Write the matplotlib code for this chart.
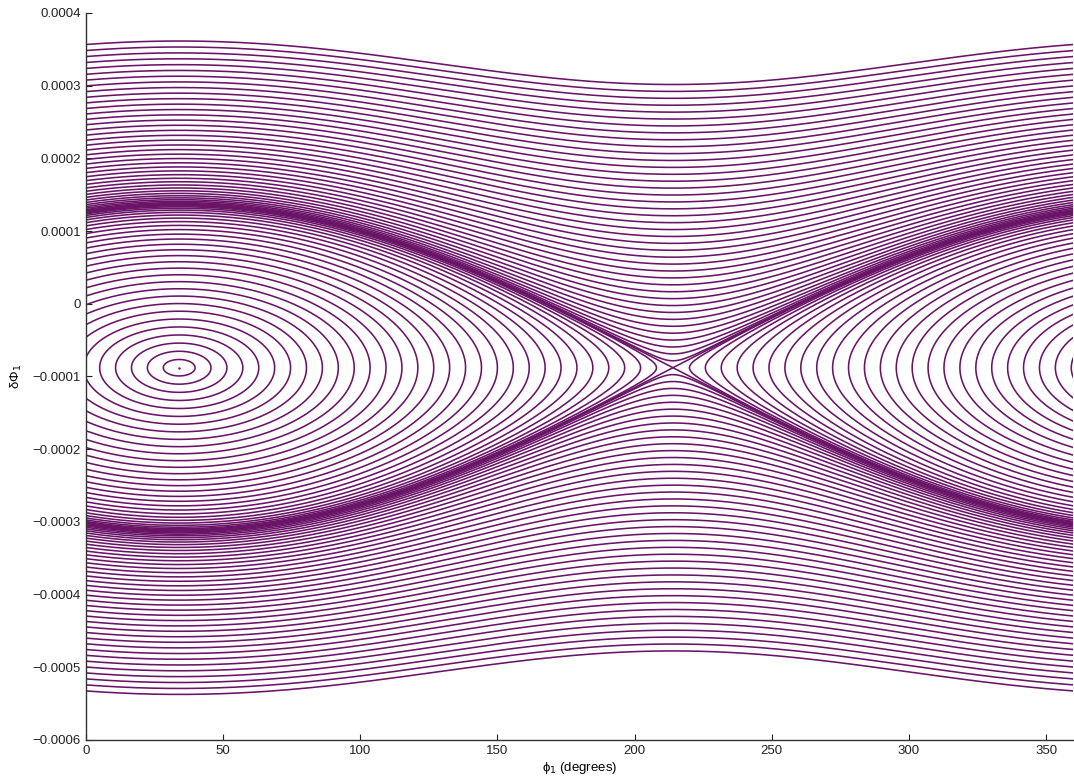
import numpy as np
import matplotlib
matplotlib.use('Agg')
import matplotlib.pyplot as plt

plt.rcParams['font.family'] = ['Liberation Sans', 'DejaVu Sans']

# centro dell'isola e separatrice
phi_c = 34.0          # gradi, centro delle librazioni
y_c = -0.000088       # quota del centro / della sella
w_sep = 0.000224      # semi-altezza della separatrice a phi = phi_c

# librazioni: angolo di inversione (gradi dal centro)
turn_deg = [5.8, 11.6, 17.4, 23.2, 29.0, 34.8, 40.6, 46.4, 52.2, 58.0,
            63.8, 69.6, 75.4, 81.2, 87.0, 92.8, 98.6, 104.4, 110.2, 116.0,
            121.8, 127.6, 133.4, 139.2, 145.0, 150.8, 156.6, 162.4, 168.2, 174.0]

# circolazioni: distanza dalla sella a phi = phi_c + 180 (unita' 1e-6)
circ_off = [0.0, 9.5, 19.0, 28.5, 38.0, 47.5, 57.0, 66.5, 76.0, 85.5, 95.0,
            104.5, 114.0, 123.5, 133.0, 142.5, 152.0, 161.5, 171.0, 180.5,
            190.0, 199.5, 209.0, 218.5, 228.0, 237.5, 247.0, 256.5, 266.0,
            275.5, 285.0, 294.5, 304.0, 313.5, 323.0, 332.5, 342.0, 351.5,
            361.0, 370.5, 380.0, 389.5]

xticks = [0, 50, 100, 150, 200, 250, 300, 350]
yticks = [-0.0006, -0.0005, -0.0004, -0.0003, -0.0002, -0.0001, 0,
          0.0001, 0.0002, 0.0003, 0.0004]
ytick_labels = ['\u22120.0006', '\u22120.0005', '\u22120.0004', '\u22120.0003',
                '\u22120.0002', '\u22120.0001', '0', '0.0001', '0.0002',
                '0.0003', '0.0004']

col = '#6a1468'
lw = 1.15

fig = plt.figure(figsize=(10.74, 7.81), dpi=100)
ax = fig.add_axes([0.080, 0.0525, 0.9195, 0.931])

# librazioni (curve chiuse), partenza dalla punta destra
u = np.linspace(np.pi / 2, np.pi / 2 + 2 * np.pi, 700)
for t in turn_deg:
    k = np.sin(np.radians(t) / 2)
    th = 2 * np.arcsin(k * np.sin(u))
    d = w_sep * k * np.cos(u)
    for shift in (0, 360):
        ax.plot(np.degrees(th) + phi_c + shift, y_c + d, color=col, lw=lw,
                solid_capstyle='butt')

# circolazioni (sopra e sotto)
phi = np.linspace(0, 360, 1500)
th = np.radians(phi - phi_c)
for off in circ_off:
    dp = off * 1e-6
    d = np.sqrt(dp ** 2 + (w_sep * np.cos(th / 2)) ** 2)
    ax.plot(phi, y_c + d, color=col, lw=lw)
    ax.plot(phi, y_c - d, color=col, lw=lw)

ax.plot([phi_c], [y_c], marker='.', ms=1.5, color=col)

ax.set_xlim(0, 360)
ax.set_ylim(-0.0006, 0.0004)
ax.set_xticks(xticks)
ax.set_yticks(yticks)
ax.set_yticklabels(ytick_labels)
ax.tick_params(direction='in', length=4, width=0.8, labelsize=9.5,
               colors='#222222')
for s in ('top', 'right'):
    ax.spines[s].set_visible(False)
for s in ('left', 'bottom'):
    ax.spines[s].set_color('#333333')
    ax.spines[s].set_linewidth(1.0)

ax.set_xlabel('\u03d5$_1$ (degrees)', fontsize=9.5, labelpad=2)
ax.set_ylabel('\u03b4\u03a6$_1$', fontsize=9.5, labelpad=6)

fig.savefig('out.png', dpi=100)
